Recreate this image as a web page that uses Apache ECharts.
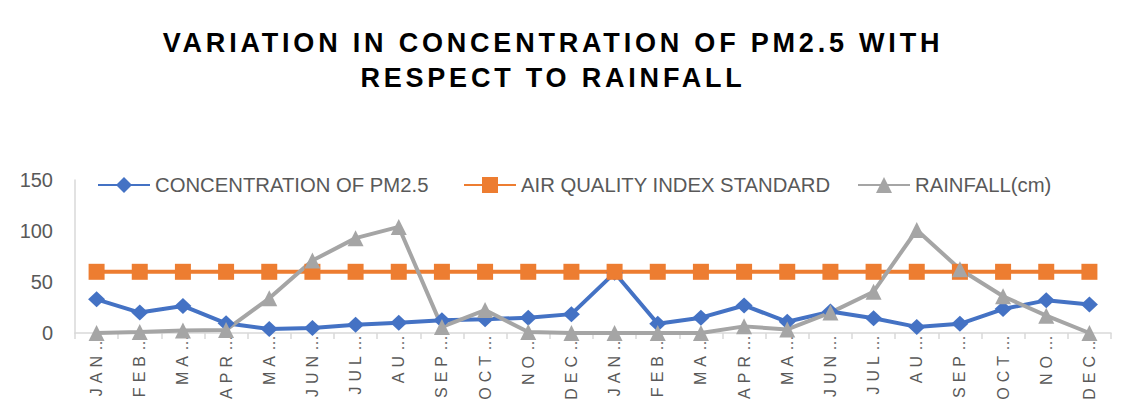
<!DOCTYPE html>
<html>
<head>
<meta charset="utf-8">
<script src="https://cdn.jsdelivr.net/npm/echarts@6/dist/echarts.min.js"></script>
<style>html,body{margin:0;padding:0;background:#fff}#c{width:1126px;height:411px}</style>
</head>
<body>
<div id="c"></div>
<script>
const titleLines = ['VARIATION IN CONCENTRATION OF PM2.5 WITH', 'RESPECT TO RAINFALL'];
const categories = ['JAN…','FEB…','MA…','APR…','MA…','JUN…','JUL…','AU…','SEP…','OCT…','NO…','DEC…',
                    'JAN…','FEB…','MA…','APR…','MA…','JUN…','JUL…','AU…','SEP…','OCT…','NO…','DEC…'];
const seriesNames = ['CONCENTRATION OF PM2.5', 'AIR QUALITY INDEX STANDARD', 'RAINFALL(cm)'];
const pm25 = [33, 20, 26.5, 9.5, 4, 5, 8, 10, 12.5, 13.5, 15, 18.5, 59, 9, 15, 27, 11, 21, 14.5, 6, 9, 23.5, 32, 28];
const aqiStandard = [60, 60, 60, 60, 60, 60, 60, 60, 60, 60, 60, 60, 60, 60, 60, 60, 60, 60, 60, 60, 60, 60, 60, 60];
const rainfall = [0, 1, 2.5, 3, 34, 71, 93, 104, 6, 22.5, 1, 0, 0, 0, 0, 6.5, 3.5, 20, 40.5, 101, 62.5, 36, 17, 0];
const yMin = 0, yMax = 150, yInterval = 50;

const colors = ['#4472C4', '#ED7D31', '#A5A5A5'];
const symbols = ['diamond', 'rect', 'triangle'];
const symbolSizes = [[17, 16], 16, 16];
const values = [pm25, aqiStandard, rainfall];
const legendLefts = [97, 463, 857];
const FONT = '"Liberation Sans", Arial, sans-serif';

const dom = document.getElementById('c');
const chart = echarts.init(dom, null, {renderer: 'svg'});

const option = {
  animation: false,
  backgroundColor: '#fff',
  title: {
    text: titleLines.join('\n'),
    left: 553,
    textAlign: 'center',
    top: 26,
    padding: 0,
    textStyle: {fontFamily: FONT, fontSize: 27, fontWeight: 'bold', color: '#000', lineHeight: 34.5}
  },
  legend: seriesNames.map((n, i) => ({
    data: [n],
    left: legendLefts[i],
    top: 175,
    padding: 0,
    itemWidth: 52,
    itemHeight: 20,
    itemGap: 5,
    textStyle: {fontFamily: FONT, fontSize: 20.3, color: '#595959'}
  })),
  grid: {left: 75, right: 15, top: 180, bottom: 78, containLabel: false},
  xAxis: {
    type: 'category',
    data: categories,
    boundaryGap: true,
    axisLine: {show: true, lineStyle: {color: '#D9D9D9', width: 1.5}},
    axisTick: {show: true, alignWithLabel: false, length: 6, lineStyle: {color: '#D9D9D9', width: 1.5}},
    axisLabel: {rotate: 90, interval: 0, margin: -3, fontFamily: FONT, fontSize: 16, color: '#595959'},
    splitLine: {show: false}
  },
  yAxis: {
    type: 'value',
    min: yMin, max: yMax, interval: yInterval,
    axisLine: {show: true, lineStyle: {color: '#D9D9D9', width: 1.5}},
    axisTick: {show: false},
    splitLine: {show: false},
    axisLabel: {margin: 22, fontFamily: FONT, fontSize: 20, color: '#595959'}
  },
  series: seriesNames.map((n, i) => ({
    name: n,
    type: 'line',
    data: values[i],
    clip: false,
    symbol: symbols[i],
    symbolSize: symbolSizes[i],
    showAllSymbol: true,
    color: colors[i],
    lineStyle: {color: colors[i], width: 4},
    itemStyle: {color: colors[i]}
  }))
};
chart.setOption(option);

function applySpacing() {
  dom.querySelectorAll('text').forEach(t => {
    const s = t.textContent;
    if (titleLines.includes(s)) t.style.letterSpacing = '3.8px';
    else if (categories.includes(s)) t.style.letterSpacing = '5px';
  });
}
chart.on('finished', applySpacing);
applySpacing();
setTimeout(applySpacing, 0);
setTimeout(applySpacing, 50);
requestAnimationFrame(applySpacing);
</script>
</body>
</html>
